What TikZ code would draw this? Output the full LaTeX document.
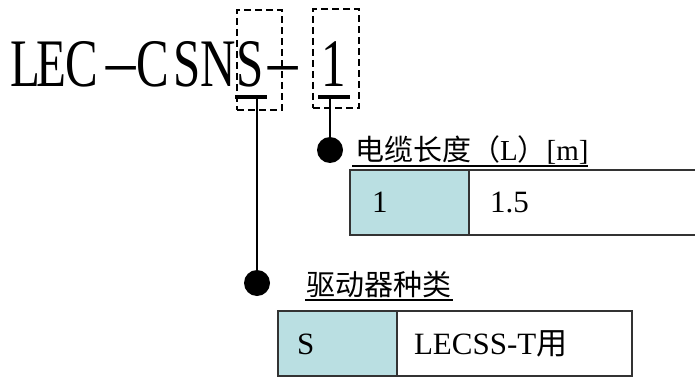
\documentclass[tikz,border=0pt]{standalone}
\usepackage{fontspec}
\setmainfont{Liberation Serif}
\newfontfamily\cjk{Noto Sans CJK SC}
\newfontfamily\narrowserif[FakeStretch=0.72]{Liberation Serif}
\definecolor{cellcyan}{HTML}{BADFE2}
\definecolor{rulegray}{HTML}{333333}

\begin{document}
\begin{tikzpicture}[x=1pt,y=-1pt,
  titlechar/.style={inner sep=0, outer sep=0, anchor=base,
    font=\narrowserif\fontsize{68}{68}\selectfont},
  dashbox/.style={draw, line width=1.9pt, dash pattern=on 7pt off 4pt,
    inner sep=0, outer sep=0, anchor=north west},
  tbar/.style={line width=4pt},
  lead/.style={line width=2.6pt},
  dot/.style={circle, fill, inner sep=0, outer sep=0, minimum size=26pt},
  caption/.style={inner sep=0, outer sep=0, anchor=base west,
    font=\cjk\fontsize{29}{29}\selectfont},
  uline/.style={line width=2.6pt},
  cellbase/.style={draw=rulegray, line width=1.6pt, inner sep=0, outer sep=0,
    anchor=north west, minimum height=65pt},
  cellcolored/.style={cellbase, fill=cellcyan},
  cellplain/.style={cellbase, fill=white},
  celltext/.style={inner sep=0, outer sep=0, anchor=base west,
    font=\fontsize{31}{31}\selectfont},
]
\useasboundingbox (0,0) rectangle (695,377);
\clip (0,0) rectangle (695,377);

% part number, one glyph at a time on its own column
\node[titlechar] (cL)  at (25,87)  {L};
\node[titlechar] (cE)  at (51,87)  {E};
\node[titlechar] (cC1) at (82,87)  {C};
\node[titlechar] (cH1) at (121,80) {\scalebox{2.4}[0.7]{-}};
\node[titlechar] (cC2) at (153,87) {C};
\node[titlechar] (cS1) at (187,87) {S};
\node[titlechar] (cN)  at (218,87) {N};
\node[titlechar] (cS2) at (250,87) {S};
\node[titlechar] (cH2) at (283,80) {\scalebox{2.4}[0.7]{-}};
\node[titlechar] (c1)  at (334,87) {1};

% dashed frames round the selectable positions
\node[dashbox, minimum width=45pt, minimum height=100pt] (boxS) at (237,10) {};
\node[dashbox, minimum width=46pt, minimum height=99pt]  (box1) at (313,9) {};

% T-shaped pointers under the frames
\coordinate (jS) at (257,97);
\coordinate (j1) at (330,97);
\draw[tbar] (235,97) -- (267,97);
\draw[tbar] (318,97) -- (350,97);

\node[dot] (dot1) at (330,150) {};
\node[dot] (dotS) at (257,283) {};
\draw[lead] (j1) -- (dot1.center);
\draw[lead] (jS) -- (dotS.center);

% cable length
\node[caption] (capL) at (355,160)
  {电缆长度（{\rmfamily L}）{\rmfamily\relax[m]}};
\draw[uline] (352,166) -- (588,166);
\node[cellcolored, minimum width=119pt] (l1a) at (350,170) {};
\node[cellplain,   minimum width=240pt] (l1b) at (469,170) {};
\node[celltext] (t1a) at (372,212) {1};
\node[celltext] (t1b) at (490,212) {1.5};

% driver type
\node[caption] (capS) at (306,295) {驱动器种类};
\draw[uline] (305,300) -- (453,300);
\node[cellcolored, minimum width=119pt] (s1a) at (278,311) {};
\node[cellplain,   minimum width=235pt] (s1b) at (397,311) {};
\node[celltext] (t2a) at (297,354) {S};
\node[celltext] (t2b) at (414,354) {LECSS-T{\cjk 用}};
\end{tikzpicture}
\end{document}
